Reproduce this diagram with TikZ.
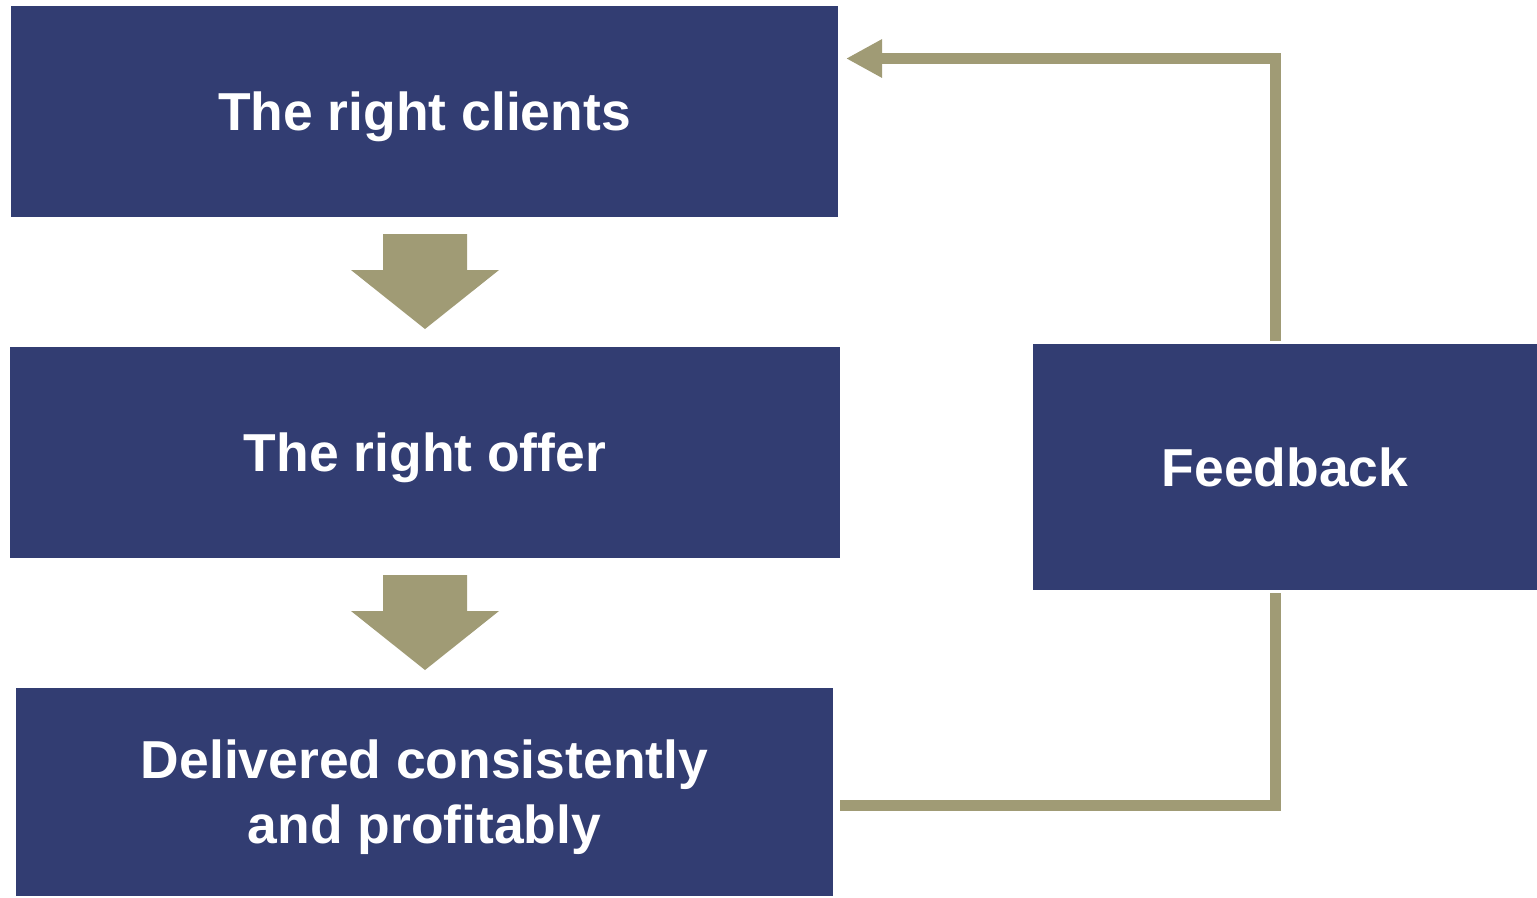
\documentclass[tikz,border=0pt]{standalone}
\usepackage{fontspec}
\setmainfont{Liberation Sans}
\usetikzlibrary{arrows.meta}

\definecolor{navy}{HTML}{323D72}
\definecolor{khaki}{HTML}{A09B75}

\tikzset{
  stagebox/.style={fill=navy, text=white, inner sep=0pt, align=center, text depth=0pt,
                   font=\fontsize{15.2}{18.5}\selectfont\bfseries},
  loopline/.style={draw=khaki, line width=0.11cm},
}

% thick block arrow pointing down, tip at #1
\newcommand{\downblock}[1]{%
  \fill[khaki] (#1) ++(-0.74,0.59) -- ++(0.32,0) -- ++(0,0.36) -- ++(0.84,0)
    -- ++(0,-0.36) -- ++(0.32,0) -- (#1) -- cycle;}

\begin{document}
\begin{tikzpicture}
    \useasboundingbox (0,0) rectangle (15.37,-8.97);

    \node[stagebox, minimum width=8.27cm, minimum height=2.11cm] (clients) at (4.245,-1.115) {The right clients};
    \node[stagebox, minimum width=8.30cm, minimum height=2.11cm] (offer) at (4.25,-4.525) {The right offer};
    \node[stagebox, minimum width=8.17cm, minimum height=2.08cm, text depth=-0.18cm] (delivered) at (4.245,-7.92) {Delivered consistently\\and profitably};
    \node[stagebox, minimum width=5.04cm, minimum height=2.46cm] (feedback) at (12.85,-4.67) {Feedback};

    % block arrows between the stages
    \downblock{4.25,-3.29}
    \downblock{4.25,-6.70}

    % feedback loop
    \coordinate (dlvout) at (8.40,-8.05);
    \coordinate (fbbot) at (12.75,-5.93);
    \coordinate (fbtop) at (12.75,-3.41);
    \coordinate (clientin) at (8.46,-0.585);
    \draw[loopline] (dlvout) -| (fbbot);
    \draw[loopline, -{Triangle[length=0.36cm, width=0.36cm]}] (fbtop) |- (clientin);
\end{tikzpicture}
\end{document}
